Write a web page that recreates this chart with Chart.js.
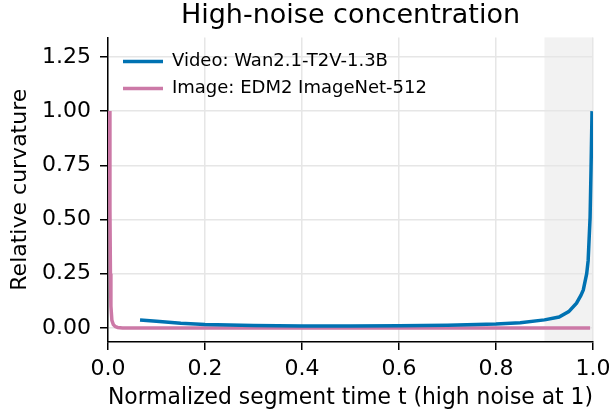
<!DOCTYPE html>
<html>
<head>
<meta charset="utf-8">
<script src="https://cdn.jsdelivr.net/npm/chart.js@4"></script>
<style>
  html, body { margin: 0; padding: 0; background: #fff; }
  #wrap { width: 609px; height: 413px; }
</style>
</head>
<body>
<div id="wrap"><canvas id="curvatureChart"></canvas></div>
<script>
// Video curve (Wan2.1-T2V-1.3B)
const videoT = [0.066, 0.1, 0.15, 0.2, 0.3, 0.4, 0.5, 0.6, 0.7, 0.8, 0.85, 0.9, 0.93, 0.95, 0.966, 0.975, 0.98, 0.987, 0.99, 0.994, 0.996, 0.998];
const videoY = [0.037, 0.031, 0.022, 0.016, 0.011, 0.009, 0.009, 0.01, 0.012, 0.018, 0.024, 0.037, 0.05, 0.075, 0.114, 0.15, 0.175, 0.25, 0.31, 0.51, 0.74, 1.0];

// Image curve (EDM2 ImageNet-512)
const imageT = [0.003, 0.004, 0.005, 0.006, 0.008, 0.011, 0.015, 0.02, 0.03, 0.5, 0.994];
const imageY = [1.0, 0.55, 0.25, 0.1, 0.035, 0.015, 0.006, 0.002, 0.0, 0.0, 0.0];

const seriesLabels = ['Video: Wan2.1-T2V-1.3B', 'Image: EDM2 ImageNet-512'];
const xTicks = [0.0, 0.2, 0.4, 0.6, 0.8, 1.0];
const yTicks = [0.0, 0.25, 0.5, 0.75, 1.0, 1.25];
const highNoiseBand = [0.9, 1.0];

Chart.defaults.font.family = 'DejaVu Sans';
Chart.defaults.color = '#000';

const toPoints = (ts, ys) => ts.map((t, i) => ({ x: t, y: ys[i] }));

// grey band for the high-noise region, drawn under the grid
const bandPlugin = {
    id: 'band',
    beforeDraw(chart) {
        const { ctx, chartArea, scales } = chart;
        const x0 = scales.x.getPixelForValue(highNoiseBand[0]);
        const x1 = scales.x.getPixelForValue(highNoiseBand[1]);
        ctx.save();
        ctx.fillStyle = '#f2f2f2';
        ctx.fillRect(x0, chartArea.top, x1 - x0, chartArea.bottom - chartArea.top);
        ctx.restore();
    },
    afterLayout(chart) {
        // nudge the legend inside the axes like matplotlib's upper-left
        const legend = chart.legend;
        legend.left = chart.chartArea.left + 6;
        legend.top = chart.chartArea.top + 6;
    }
};

const ctx = document.getElementById('curvatureChart').getContext('2d');
new Chart(ctx, {
    type: 'line',
    data: {
        datasets: [
            {
                label: seriesLabels[0],
                data: toPoints(videoT, videoY),
                borderColor: '#0072b2',
                backgroundColor: '#0072b2',
                borderWidth: 3.5,
                pointRadius: 0,
                tension: 0
            },
            {
                label: seriesLabels[1],
                data: toPoints(imageT, imageY),
                borderColor: '#cc79a7',
                backgroundColor: '#cc79a7',
                borderWidth: 3.5,
                pointRadius: 0,
                tension: 0
            }
        ]
    },
    options: {
        responsive: true,
        maintainAspectRatio: false,
        animation: false,
        layout: {
            padding: { left: 0, right: 16, top: 0, bottom: 0 }
        },
        scales: {
            x: {
                type: 'linear',
                min: 0,
                max: 1,
                afterBuildTicks: (scale) => { scale.ticks = xTicks.map(v => ({ value: v })); },
                afterFit: (scale) => { scale.height = 71; scale.paddingLeft = 0; scale.paddingRight = 0; },
                ticks: {
                    padding: 6,
                    font: { size: 22 },
                    callback: (v) => v.toFixed(1)
                },
                grid: {
                    color: '#e6e6e6',
                    lineWidth: 1.5,
                    tickColor: '#000',
                    tickWidth: 1.5,
                    tickLength: 8
                },
                border: { color: '#000', width: 1.5 },
                title: {
                    display: true,
                    text: 'Normalized segment time t (high noise at 1)',
                    font: { size: 23 },
                    padding: { top: 0, bottom: 1 }
                }
            },
            y: {
                type: 'linear',
                min: -0.065,
                max: 1.34,
                afterBuildTicks: (scale) => { scale.ticks = yTicks.map(v => ({ value: v })); },
                afterFit: (scale) => { scale.width = 108; scale.paddingTop = 0; scale.paddingBottom = 0; },
                ticks: {
                    padding: 9,
                    font: { size: 22 },
                    callback: (v) => v.toFixed(2)
                },
                grid: {
                    color: '#e6e6e6',
                    lineWidth: 1.5,
                    tickColor: '#000',
                    tickWidth: 1.5,
                    tickLength: 8
                },
                border: { color: '#000', width: 1.5 },
                title: {
                    display: true,
                    text: 'Relative curvature',
                    font: { size: 22 },
                    padding: { top: 7, bottom: 0 }
                }
            }
        },
        plugins: {
            title: {
                display: true,
                fullSize: false,
                text: 'High-noise concentration',
                font: { size: 27, weight: 'normal' },
                padding: { top: 0, bottom: 5 }
            },
            legend: {
                position: 'chartArea',
                align: 'start',
                labels: {
                    usePointStyle: true,
                    pointStyle: 'line',
                    pointStyleWidth: 40,
                    boxHeight: 18,
                    padding: 9,
                    font: { size: 18 }
                }
            },
            tooltip: { enabled: false }
        }
    },
    plugins: [bandPlugin]
});
</script>
</body>
</html>
